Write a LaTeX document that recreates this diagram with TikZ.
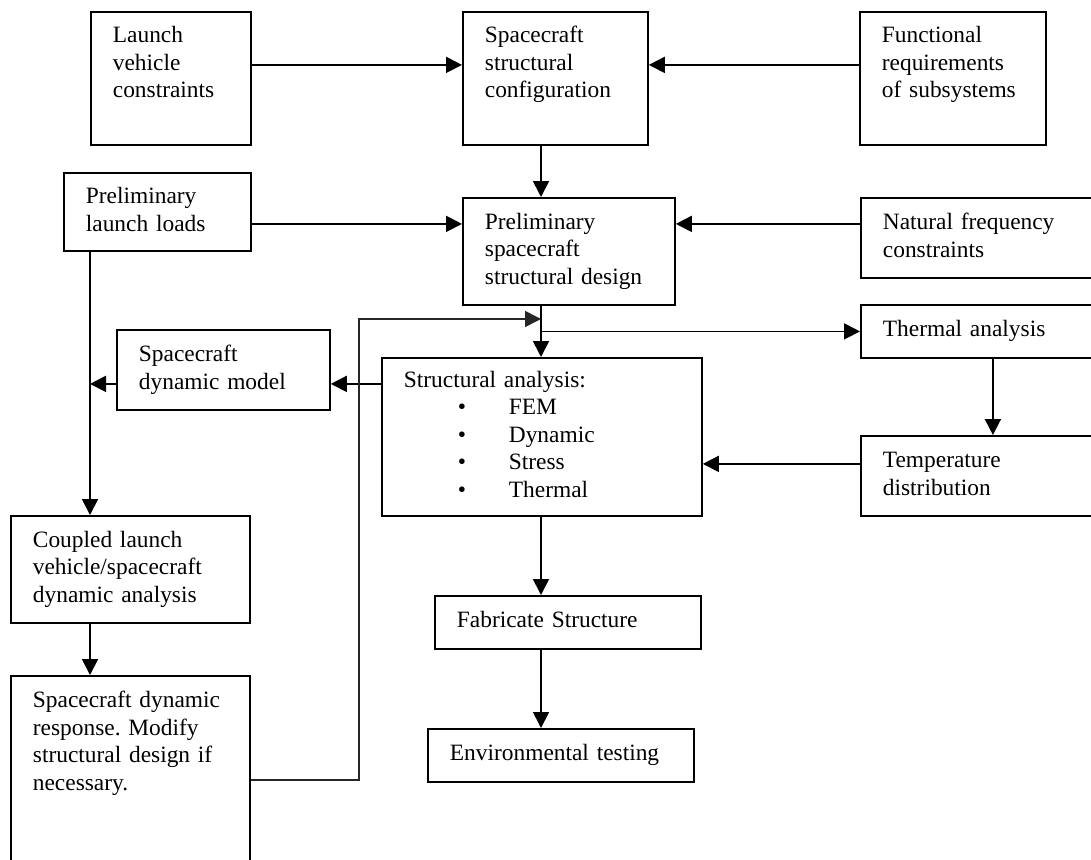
\documentclass[tikz,border=0pt]{standalone}
\usepackage{fontspec}
\setmainfont{Liberation Serif}
\usetikzlibrary{arrows.meta}
\frenchspacing
\tikzset{
  blk/.style={draw, line width=1.8pt, anchor=north west, align=left, inner xsep=22pt, inner ysep=0pt,
    font=\fontsize{23.4}{27.5}\selectfont, execute at begin node=\strut, execute at end node=\strut},
  arr/.style={line width=1.8pt, -{Triangle[length=16pt,width=16pt]}},
  fback/.style={arr, draw=black!85, line width=1.6pt}
}
\newcommand{\itm}[1]{\hspace*{54pt}\makebox[51pt][l]{\textbullet}#1}
\begin{document}
\begin{tikzpicture}[x=1pt,y=-1pt]
\useasboundingbox (0,0) rectangle (1091,859);
\clip (0,0) rectangle (1091,859);
\coordinate (spine) at (541,0);
\coordinate (trunk) at (90,0);
\coordinate (fb) at (359,780);
\coordinate (fbtop) at (541,319);
\node[blk, text width=116pt, minimum height=133pt] (lvc) at (90,11) {Launch\\vehicle\\constraints\\};
\node[blk, text width=141pt, minimum height=133pt] (ssc) at (462,11) {Spacecraft\\structural\\configuration\\};
\node[blk, text width=142pt, minimum height=133pt] (funcreq) at (859,11) {Functional\\requirements\\of subsystems\\};
\node[blk, text width=143pt, minimum height=78pt] (pll) at (63,172) {Preliminary\\launch loads};
\node[blk, text width=168pt, minimum height=107pt] (pssd) at (462,197) {Preliminary\\spacecraft\\structural design};
\node[blk, text width=220pt, minimum height=80pt] (nfc) at (860,197) {Natural frequency\\constraints};
\node[blk, text width=220pt, minimum height=53pt] (thermal) at (860,304) {Thermal analysis};
\node[blk, text width=220pt, minimum height=80pt] (tempdist) at (860,435) {Temperature\\distribution};
\node[blk, text width=276pt, minimum height=158pt] (sa) at (381,357) {Structural analysis:\\\itm{FEM}\\\itm{Dynamic}\\\itm{Stress}\\\itm{Thermal}};
\node[blk, text width=169pt, minimum height=80pt] (sdm) at (116,329) {Spacecraft\\dynamic model};
\node[blk, text width=195pt, minimum height=107pt] (clv) at (10,515) {Coupled launch\\vehicle/spacecraft\\dynamic analysis};
\node[blk, text width=195pt, minimum height=190pt] (sdr) at (10,675) {Spacecraft dynamic\\response. Modify\\structural design if\\necessary.\\\strut\\};
\node[blk, text width=222pt, minimum height=53pt] (fab) at (434,595) {Fabricate Structure};
\node[blk, text width=222pt, minimum height=53pt] (env) at (427,728) {Environmental testing};
\draw[arr] ([yshift=13.5pt]lvc.east) -- ([yshift=13.5pt]lvc.east -| ssc.west);
\draw[arr] ([yshift=13.5pt]funcreq.west) -- ([yshift=13.5pt]funcreq.west -| ssc.east);
\draw[arr] (ssc.south -| spine) -- (pssd.north -| spine);
\draw[arr] ([yshift=-12pt]pll.east) -- ([yshift=-12pt]pll.east -| pssd.west);
\draw[arr] ([yshift=14pt]nfc.west) -- ([yshift=14pt]nfc.west -| pssd.east);
\draw[arr] (pssd.south -| spine) -- (sa.north -| spine);
\draw[arr] (thermal.west -| spine) -- (thermal.west);
\draw[arr] (thermal.south) -- (tempdist.north);
\draw[arr] ([yshift=12pt]tempdist.west) -- ([yshift=12pt]tempdist.west -| sa.east);
\draw[arr] ([yshift=-14pt]sdm.east -| sa.west) -- ([yshift=-14pt]sdm.east);
\draw[arr] ([yshift=-14pt]sdm.west) -- ([yshift=-14pt]sdm.west -| trunk);
\draw[arr] (pll.south -| trunk) -- (clv.north -| trunk);
\draw[arr] (clv.south -| trunk) -- (sdr.north -| trunk);
\draw[fback] (sdr.east |- fb) -- (fb) |- (fbtop);
\draw[arr] (sa.south -| spine) -- (fab.north -| spine);
\draw[arr] (fab.south -| spine) -- (env.north -| spine);
\end{tikzpicture}
\end{document}
